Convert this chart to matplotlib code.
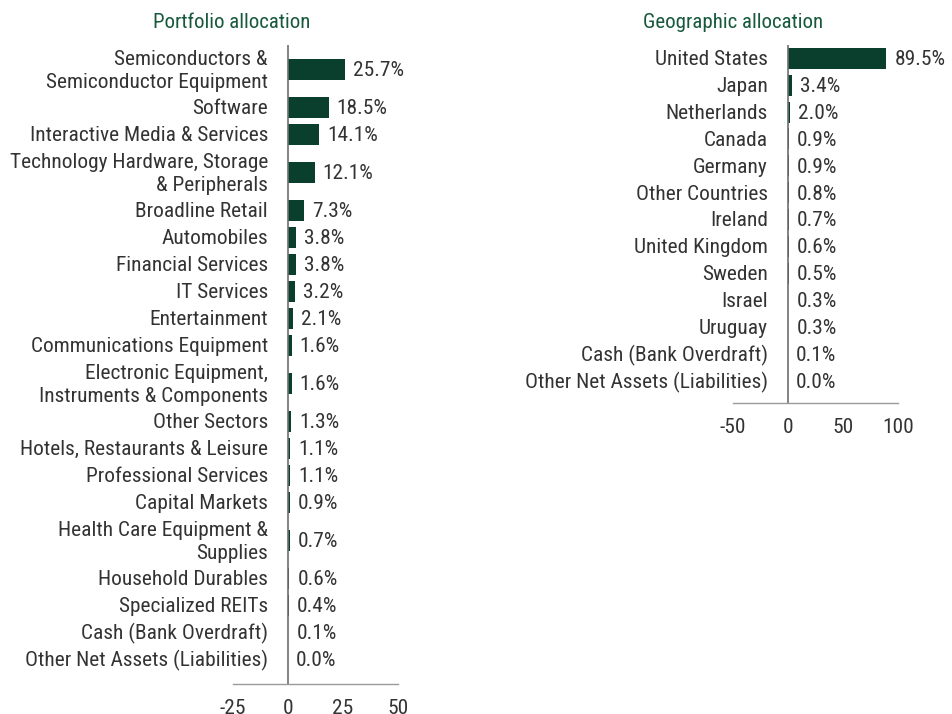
import matplotlib
matplotlib.use("Agg")
import matplotlib.pyplot as plt

plt.rcParams["font.family"] = ["Roboto Condensed", "Liberation Sans", "DejaVu Sans"]

# Sector breakdown (% of net assets)
sectors = [
    "Semiconductors &\nSemiconductor Equipment",
    "Software",
    "Interactive Media & Services",
    "Technology Hardware, Storage\n& Peripherals",
    "Broadline Retail",
    "Automobiles",
    "Financial Services",
    "IT Services",
    "Entertainment",
    "Communications Equipment",
    "Electronic Equipment,\nInstruments & Components",
    "Other Sectors",
    "Hotels, Restaurants & Leisure",
    "Professional Services",
    "Capital Markets",
    "Health Care Equipment &\nSupplies",
    "Household Durables",
    "Specialized REITs",
    "Cash (Bank Overdraft)",
    "Other Net Assets (Liabilities)",
]
sector_pct = [25.7, 18.5, 14.1, 12.1, 7.3, 3.8, 3.8, 3.2, 2.1, 1.6,
              1.6, 1.3, 1.1, 1.1, 0.9, 0.7, 0.6, 0.4, 0.1, 0.0]
sector_ticks = [-25, 0, 25, 50]

# Country breakdown (% of net assets)
countries = [
    "United States", "Japan", "Netherlands", "Canada", "Germany",
    "Other Countries", "Ireland", "United Kingdom", "Sweden", "Israel",
    "Uruguay", "Cash (Bank Overdraft)", "Other Net Assets (Liabilities)",
]
country_pct = [89.5, 3.4, 2.0, 0.9, 0.9, 0.8, 0.7, 0.6, 0.5, 0.3, 0.3, 0.1, 0.0]
country_ticks = [-50, 0, 50, 100]

BAR = "#0b3f2d"
TITLE = "#17593b"
TEXT = "#333333"
FS = 15.4
W, H = 952, 714


def row_centers(labels, single, double):
    # rows with two-line labels get a taller band
    centers, top = [], 0.0
    for lab in labels:
        h = double if "\n" in lab else single
        centers.append(top + h / 2)
        top += h
    return centers


def allocation(rect, labels, values, ticks, single=27.0, double=49.0):
    left, top, right, bottom = rect
    ax = fig.add_axes([left / W, 1 - bottom / H, (right - left) / W, (bottom - top) / H])
    ys = row_centers(labels, single, double)
    ax.barh(ys, values, height=21, color=BAR)
    ax.set_ylim(bottom - top, 0)
    ax.set_xlim(ticks[0], ticks[-1])
    ax.axvline(0, color="#6e6e6e", lw=1.2)
    for y, v, lab in zip(ys, values, labels):
        ax.annotate(f"{v:.1f}%", (v, y), xytext=(5.8, -1), textcoords="offset points",
                    ha="left", va="center", fontsize=FS, color=TEXT)
        # category names sit just left of the zero line
        ax.annotate(lab, (0, y), xytext=(-14.4, -1), textcoords="offset points",
                    ha="right", va="center", multialignment="right",
                    fontsize=FS, color=TEXT, linespacing=1.22, annotation_clip=False)
    ax.set_yticks([])
    ax.set_xticks(ticks)
    ax.set_xticklabels([str(t) for t in ticks], fontsize=FS, color=TEXT)
    ax.tick_params(axis="x", length=0, pad=11)
    for s in ["top", "right", "left"]:
        ax.spines[s].set_visible(False)
    ax.spines["bottom"].set_color("#9a9a9a")
    ax.spines["bottom"].set_linewidth(1)
    ax.patch.set_visible(False)
    return ax


fig = plt.figure(figsize=(9.52, 7.14), dpi=100)

allocation((233, 45, 398, 684), sectors, sector_pct, sector_ticks)
allocation((733, 45, 898, 403), countries, country_pct, country_ticks, single=26.85)

fig.text(232 / W, 1 - 23 / H, "Portfolio allocation", ha="center", va="center",
         fontsize=15, color=TITLE)
fig.text(733 / W, 1 - 23 / H, "Geographic allocation", ha="center", va="center",
         fontsize=15, color=TITLE)

fig.savefig("out.png", dpi=100)
